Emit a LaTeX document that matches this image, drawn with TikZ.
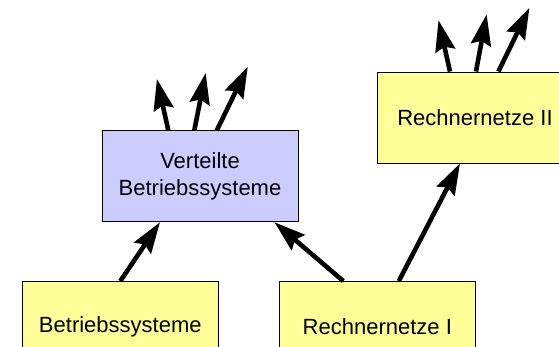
\documentclass[tikz,border=0pt]{standalone}
\usepackage{fontspec}
\setmainfont{Liberation Sans}
\usetikzlibrary{arrows.meta}
\tikzset{
	kurs/.style={draw, line width=0.9pt, inner sep=0pt, minimum width=196pt, minimum height=91pt,
		align=center, font=\fontsize{22}{27.8}\selectfont},
	pfeil/.style={line width=4.6pt, -{Stealth[length=31pt,width=20pt,inset=4pt]}}
}
\definecolor{gelb}{HTML}{FFFF99}
\definecolor{lila}{HTML}{CCCCFF}

\begin{document}
\begin{tikzpicture}[x=1pt,y=-1pt]
		\useasboundingbox (0,0) rectangle (559,347);
		\clip (0,0) rectangle (559,347);
		%Kurse
		\node[kurs, fill=lila] (vb) at (200,176.3) {Verteilte\\Betriebssysteme};
		\node[kurs, fill=gelb] (rn2) at (475,117.5) {Rechnernetze II};
		\node[kurs, fill=gelb] (bs) at (120.3,327) {Betriebssysteme};
		\node[kurs, fill=gelb] (rn1) at (377.3,327) {Rechnernetze I};
		%offene Enden
		\coordinate (vb1) at (156.9,79);
		\coordinate (vb2) at (205.7,73);
		\coordinate (vb3) at (247.8,66.7);
		\coordinate (rn21) at (438.5,20.3);
		\coordinate (rn22) at (486.6,14.3);
		\coordinate (rn23) at (529.4,7.8);
		%Voraussetzungen
		\draw[pfeil] (bs.north) -- ([xshift=-40pt]vb.south);
		\draw[pfeil] ([xshift=-34pt]rn1.north) -- ([xshift=-24pt]vb.south east);
		\draw[pfeil] ([xshift=21.5pt]rn1.north) -- ([xshift=-15pt]rn2.south);
		\draw[pfeil] ([xshift=-31.7pt]vb.north) -- (vb1);
		\draw[pfeil] ([xshift=-5.7pt]vb.north) -- (vb2);
		\draw[pfeil] ([xshift=16.8pt]vb.north) -- (vb3);
		\draw[pfeil] ([xshift=-25pt]rn2.north) -- (rn21);
		\draw[pfeil] ([xshift=1pt]rn2.north) -- (rn22);
		\draw[pfeil] ([xshift=23.4pt]rn2.north) -- (rn23);
	\end{tikzpicture}
\end{document}
